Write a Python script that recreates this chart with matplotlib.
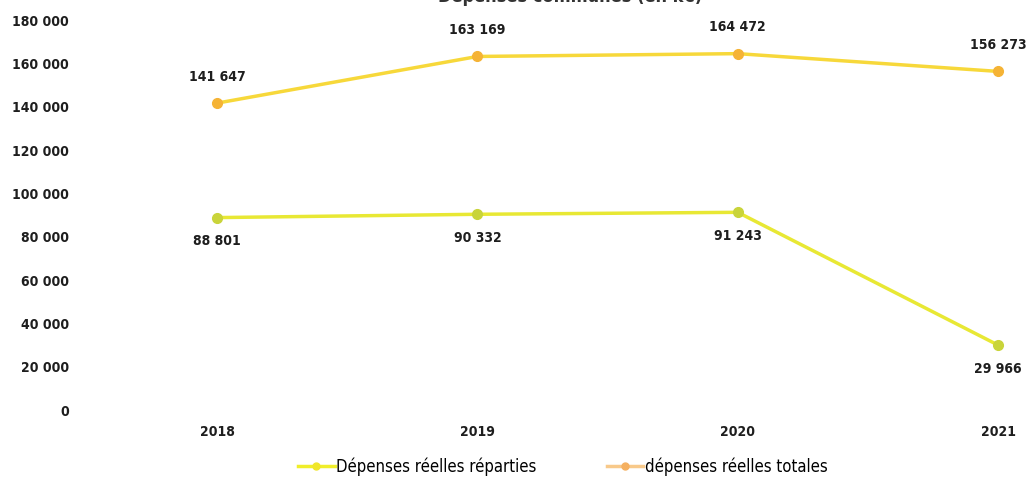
import matplotlib.pyplot as plt

# --- data (k€) ---
years = ["2018", "2019", "2020", "2021"]
depenses_totales = [141647, 163169, 164472, 156273]
depenses_reparties = [88801, 90332, 91243, 29966]
y_ticks = [0, 20000, 40000, 60000, 80000, 100000, 120000, 140000, 160000, 180000]

def fmt(v):
    return f"{v:,}".replace(",", " ")

plt.rcParams['font.family'] = ['DejaVu Sans']
plt.rcParams['font.stretch'] = 'condensed'

fig = plt.figure(figsize=(10.33, 4.9), dpi=100)
ax = fig.add_axes([87 / 1033, 80 / 490, (1033 - 87) / 1033, (409 - 19) / 490])

x = list(range(len(years)))

# upper series: total spending
ax.plot(x, depenses_totales, color="#f7d83a", lw=2.5, marker="o", ms=7,
        mfc="#f5b335", mec="#f5b335", zorder=3)
# lower series: distributed spending
ax.plot(x, depenses_reparties, color="#e8e834", lw=2.5, marker="o", ms=7,
        mfc="#c9d43a", mec="#c9d43a", zorder=3)

# value labels
for xi, v in zip(x, depenses_totales):
    ax.annotate(fmt(v), (xi, v), xytext=(0, 14), textcoords="offset points",
                ha="center", va="bottom", fontsize=10, fontweight="bold",
                fontstretch="condensed", color="#1e1e1e")
for xi, v in zip(x, depenses_reparties):
    ax.annotate(fmt(v), (xi, v), xytext=(0, -12), textcoords="offset points",
                ha="center", va="top", fontsize=10, fontweight="bold",
                fontstretch="condensed", color="#1e1e1e")

ax.set_xlim(-0.5, (1033 - 87) / 260.3 - 0.5)
ax.set_ylim(0, 180000)
ax.set_yticks(y_ticks)
ax.set_yticklabels([fmt(t) for t in y_ticks])
ax.set_xticks(x)
ax.set_xticklabels(years)
ax.tick_params(axis="both", length=0, labelsize=10, colors="#1e1e1e")
ax.tick_params(axis="x", pad=11)
ax.tick_params(axis="y", pad=13)
for lbl in ax.get_xticklabels() + ax.get_yticklabels():
    lbl.set_fontweight("bold")
    lbl.set_fontstretch("condensed")
for s in ax.spines.values():
    s.set_visible(False)

# title, mostly outside the top edge
fig.text(0.552, 1 - 6 / 490, "Dépenses communes (en k€)", ha="center",
         va="bottom", fontsize=13, fontweight="bold", fontstretch="condensed",
         color="#333333")

# legend
h1 = plt.Line2D([], [], color="#f0ee2a", lw=2.5, marker="o", ms=5,
                mfc="#f0e62a", mec="#f0e62a")
h2 = plt.Line2D([], [], color="#f8c98a", lw=2.5, marker="o", ms=5,
                mfc="#f5b060", mec="#f5b060")
fig.legend([h1, h2], ["Dépenses réelles réparties", "dépenses réelles totales"],
           loc="center", bbox_to_anchor=(0.545, 1 - 467 / 490), ncol=2,
           frameon=False,
           prop={"family": "DejaVu Sans", "stretch": "condensed", "size": 12},
           handlelength=2.2, handletextpad=0.1, columnspacing=4.2)

fig.savefig("out.png", dpi=100)
